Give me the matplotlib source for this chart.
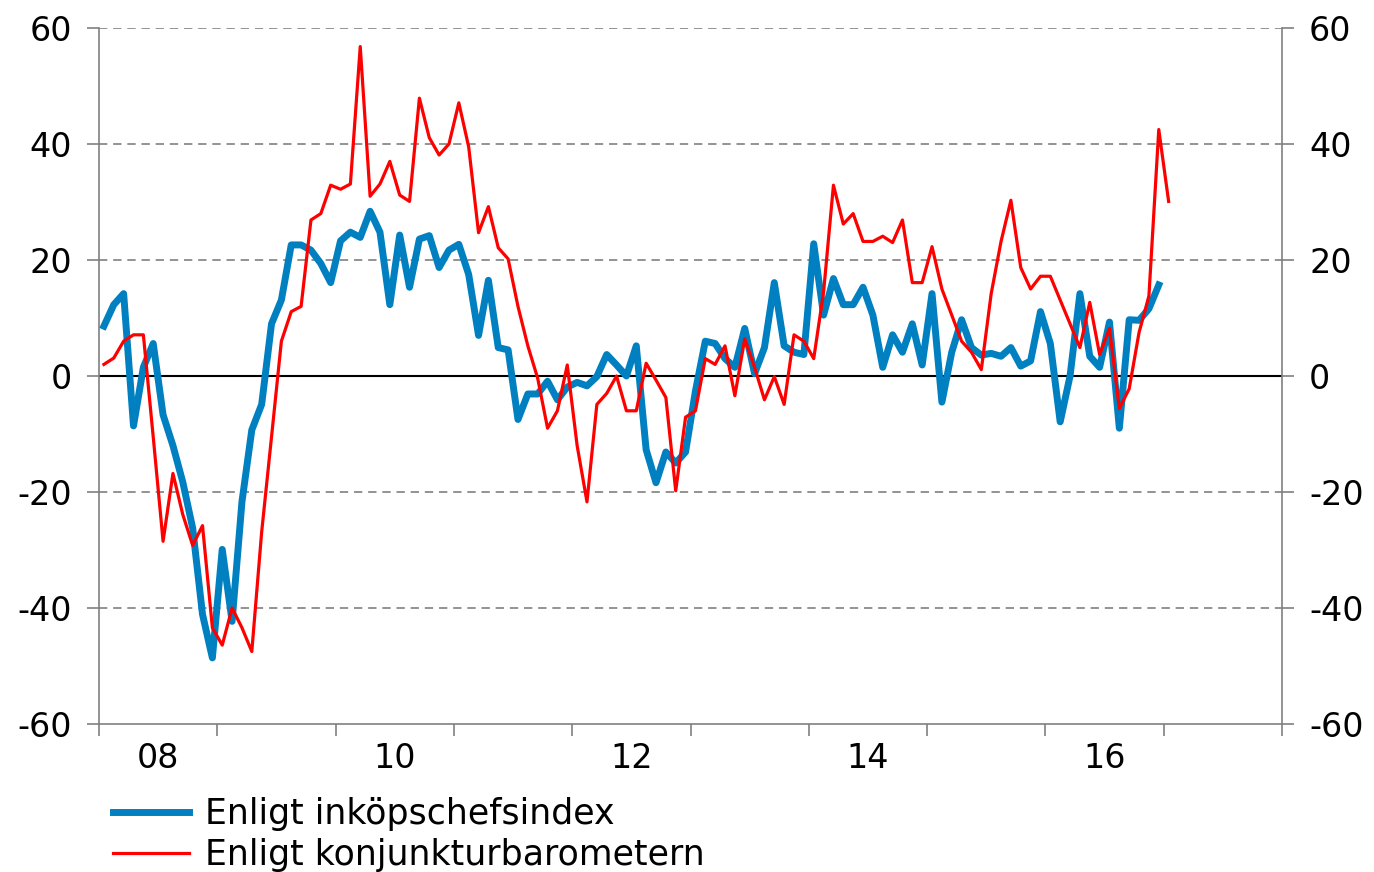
import numpy as np
import matplotlib.pyplot as plt

# Monthly series, Jan 2008 onwards
inkop = [8.6, 12.3, 14.2, -8.6, 1.5, 5.6, -6.7, -12, -18.3, -26.2, -41.1, -48.6, -29.9, -42.3, -21.7, -9.3, -4.9, 9.0, 13.1,
         22.6, 22.6, 21.7, 19.4, 16.1, 23.3, 24.8, 23.9, 28.4, 24.8, 12.3, 24.3, 15.3, 23.6, 24.2, 18.7, 21.7, 22.7, 17.5,
         7.0, 16.5, 4.9, 4.5, -7.5, -3.1, -3.1, -0.9, -4.1, -1.9, -1.1, -1.7, -0.1, 3.7, 1.9, 0.0, 5.2, -12.7,
         -18.4, -13.1, -15, -13.1, -2.6, 6.0, 5.6, 3.0, 1.5, 8.2, 0.4, 4.9, 16.1, 5.2, 4.1, 3.7, 22.8, 10.5, 16.8,
         12.3, 12.3, 15.3, 10.5, 1.5, 7.1, 4.1, 9.0, 1.9, 14.2, -4.5, 4.1, 9.7, 4.9, 3.6, 3.9, 3.4, 4.9, 1.7,
         2.6, 11.1, 5.6, -7.9, 0.0, 14.2, 3.4, 1.5, 9.3, -9.0, 9.7, 9.6, 11.6, 15.7]

konj = [2.0, 3.1, 6.0, 7.1, 7.1, -10.5, -28.5, -16.8, -23.9, -29.2, -25.8, -43.4, -46.4, -40, -43.4, -47.5, -26.9, -10.5, 6.0,
        11.1, 12.0, 26.9, 28.0, 32.9, 32.2, 33.1, 56.8, 31.0, 33.1, 37.0, 31.2, 30.1, 47.9, 41.1, 38.1, 40.0, 47.1, 39.5,
        24.7, 29.2, 22.1, 20.2, 12.0, 5.2, -0.4, -9.0, -6.0, 1.9, -12, -21.7, -4.9, -3.0, 0.0, -6.0, -6.0, 2.2,
        -0.7, -3.7, -19.8, -7.1, -6.0, 3.0, 2.0, 5.2, -3.4, 6.4, 1.5, -4.1, -0.1, -4.9, 7.1, 6.0, 3.0, 14.5, 32.9,
        26.2, 28.0, 23.2, 23.2, 24.1, 23.0, 26.9, 16.1, 16.1, 22.3, 15.0, 10.5, 6.0, 4.1, 1.1, 14.2, 23.2, 30.3, 18.7,
        15.0, 17.2, 17.2, 13.1, 9.0, 4.9, 12.7, 3.7, 8.2, -5.6, -2.2, 7.5, 13.8, 42.5, 30.1]

years = np.arange(2008, 2019)
year_labels = ['08', '10', '12', '14', '16']

t_inkop = 2008 + (np.arange(len(inkop)) + 0.5) / 12
t_konj = 2008 + (np.arange(len(konj)) + 0.5) / 12

plt.rcParams['font.family'] = 'DejaVu Sans'
plt.rcParams['font.size'] = 24
plt.rcParams['axes.unicode_minus'] = False

fig = plt.figure(figsize=(13.74, 8.72), dpi=100)
ax = fig.add_axes([99/1374, 1 - 724/872, (1282-99)/1374, (724-28)/872])

grey = '#808080'
for v in [-40, -20, 20, 40, 60]:
    ax.axhline(v, color=grey, lw=1.2, ls=(0, (5, 3.5)), zorder=1)
ax.axhline(0, color='black', lw=1.5, zorder=2)

ax.plot(t_inkop, inkop, color='#0080C0', lw=5, label='Enligt inköpschefsindex', zorder=3)
ax.plot(t_konj, konj, color='#FF0000', lw=2.3, label='Enligt konjunkturbarometern', zorder=4)

ax.set_xlim(2008, 2018)
ax.set_ylim(-60, 60)
ax.set_yticks(range(-60, 61, 20))
ax.set_xticks(years)
ax.set_xticklabels([])
ax.set_xticks([2008.5, 2010.5, 2012.5, 2014.5, 2016.5], minor=True)
ax.set_xticklabels(year_labels, minor=True)

ax.spines['top'].set_visible(False)
for s in ['left', 'right', 'bottom']:
    ax.spines[s].set_color(grey)
    ax.spines[s].set_linewidth(1.2)

ax.tick_params(axis='y', left=True, right=True, labelleft=True, labelright=True,
               direction='out', length=8.5, width=1.2, color=grey, pad=11)
ax.tick_params(axis='x', which='major', direction='out', length=8.5, width=1.2, color=grey)
ax.tick_params(axis='x', which='minor', length=0, pad=13)

ax.legend(loc='upper left', bbox_to_anchor=(113/1374, 1 - 797/872), bbox_transform=fig.transFigure,
          frameon=False, handlelength=2.2, handletextpad=0.45, labelspacing=0.2, borderaxespad=0,
          borderpad=0, fontsize=25)

fig.savefig('out.png', dpi=100)
